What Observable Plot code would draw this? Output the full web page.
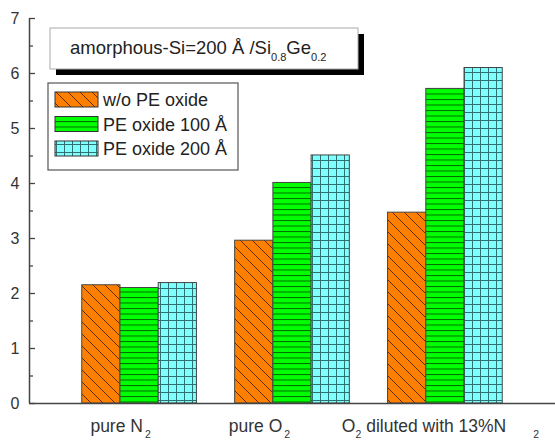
<!DOCTYPE html>
<html>
<head>
<meta charset="utf-8">
<script src="https://cdn.jsdelivr.net/npm/d3@7"></script>
<script src="https://cdn.jsdelivr.net/npm/@observablehq/plot@0.6"></script>
<style>
  html, body { margin: 0; padding: 0; background: #fff; }
  #chart svg { display: block; }
</style>
</head>
<body>
<div id="chart"></div>
<script>
// ---- data ----
const groups = ["pure N2", "pure O2", "O2 diluted with 13%N2"];
const groupLabelParts = [
  [["pure N", false], ["2", true]],
  [["pure O", false], ["2", true]],
  [["O", false], ["2", true], [" diluted with 13%N ", false], ["2", true]]
];
const series = ["w/o PE oxide", "PE oxide 100 Å", "PE oxide 200 Å"];
const woPEoxide = [2.15, 2.96, 3.47];
const peOxide100 = [2.10, 4.01, 5.72];
const peOxide200 = [2.19, 4.51, 6.10];
const yTicks = [0, 1, 2, 3, 4, 5, 6, 7];
const yMinorTicks = [0.5, 1.5, 2.5, 3.5, 4.5, 5.5, 6.5];

// ---- layout ----
const seriesValues = [woPEoxide, peOxide100, peOxide200];
const patternIds = ["patOrange", "patGreen", "patCyan"];
const barWidth = 0.25;
const xDomain = [-0.72, 2.72];
const labelShift = [-19, -33, -5];          // horizontal nudge of category labels (px)
const subGap = [[0, 2], [0, 2], [0, 0, 0, 22]]; // extra gap before subscripts (px)

const data = [];
groups.forEach((g, gi) => {
  series.forEach((s, si) => {
    data.push({
      group: g, gi, series: s, si,
      value: seriesValues[si][gi],
      x1: gi + (si - 1.5) * barWidth,
      x2: gi + (si - 0.5) * barWidth
    });
  });
});

const font = "'Liberation Sans', Arial, Helvetica, sans-serif";

const plot = Plot.plot({
  width: 555,
  height: 443,
  marginLeft: 29,
  marginRight: 0,
  marginTop: 18,
  marginBottom: 40,
  style: { fontSize: "16px", fontFamily: font, color: "#333", background: "#fff" },
  x: { domain: xDomain, axis: null },
  y: { domain: [0, 7], axis: null },
  color: { domain: series, range: patternIds.map(id => `url(#${id})`) },
  marks: [
    Plot.rectY(data, { x1: "x1", x2: "x2", y: "value", fill: "series", stroke: "#444", strokeWidth: 1 }),
    Plot.ruleY([0], { stroke: "#444", strokeWidth: 1.5 }),
    Plot.ruleX([xDomain[0]], { stroke: "#444", strokeWidth: 1.5 }),
    Plot.axisY({ ticks: yTicks, tickSize: -6, tickPadding: 16, tickFormat: d => d, label: null, fontSize: 16, stroke: "#444", strokeWidth: 1.3 }),
    Plot.axisY({ ticks: yMinorTicks, tickSize: -4, tickFormat: () => "", label: null, stroke: "#444", strokeWidth: 1.3 }),
    Plot.axisX({ ticks: [0, 1, 2], tickFormat: i => groups[i], tickSize: 0, tickPadding: 16.5, fontSize: 17.5, label: null })
  ]
});

document.getElementById("chart").appendChild(plot);

const svg = d3.select(plot.tagName.toLowerCase() === "svg" ? plot : plot.querySelector("svg"));

// ---- patterns ----
const defs = svg.insert("defs", ":first-child");
const pO = defs.append("pattern").attr("id", "patOrange").attr("patternUnits", "userSpaceOnUse")
  .attr("width", 12).attr("height", 12);
pO.append("rect").attr("width", 12).attr("height", 12).attr("fill", "#ff8000");
pO.append("path").attr("d", "M-1,-1L13,13M-1,11L1,13M11,-1L13,1")
  .attr("stroke", "#5a3000").attr("stroke-width", 1);
const pG = defs.append("pattern").attr("id", "patGreen").attr("patternUnits", "userSpaceOnUse")
  .attr("width", 10).attr("height", 5.5);
pG.append("rect").attr("width", 10).attr("height", 5.5).attr("fill", "#00ff00");
pG.append("path").attr("d", "M0,0.5H10").attr("stroke", "#006a00").attr("stroke-width", 1);
const pC = defs.append("pattern").attr("id", "patCyan").attr("patternUnits", "userSpaceOnUse")
  .attr("width", 8).attr("height", 8);
pC.append("rect").attr("width", 8).attr("height", 8).attr("fill", "#80ffff");
pC.append("path").attr("d", "M0.5,0V8M0,0.5H8").attr("stroke", "#2f7070").attr("stroke-width", 1);

// ---- x tick labels with subscripts ----
svg.selectAll('g[aria-label="x-axis tick label"] text').each(function() {
  const t = d3.select(this);
  const idx = groups.indexOf(t.text());
  if (idx < 0) return;
  t.text("");
  let lowered = false;
  groupLabelParts[idx].forEach(([txt, sub], k) => {
    const ts = t.append("tspan").text(txt);
    if (sub) {
      ts.attr("font-size", 10.5).attr("dy", lowered ? 0 : 6).attr("dx", subGap[idx][k] || 0);
      lowered = true;
    } else if (lowered) {
      ts.attr("dy", -6);
      lowered = false;
    }
  });
  t.attr("dx", labelShift[idx]);
});

// ---- title box ----
const tb = svg.append("g").attr("text-anchor", "start");
tb.append("rect").attr("x", 56).attr("y", 34).attr("width", 308).attr("height", 41).attr("fill", "#000");
tb.append("rect").attr("x", 50).attr("y", 28).attr("width", 308).attr("height", 41)
  .attr("fill", "#fff").attr("stroke", "#aaa").attr("stroke-width", 1);
const tt = tb.append("text").attr("x", 70).attr("y", 54).attr("font-family", font)
  .attr("font-size", 18.5).attr("fill", "#222").attr("text-anchor", "start");
tt.append("tspan").text("amorphous-Si=200 Å /Si");
tt.append("tspan").text("0.8").attr("font-size", 11).attr("dy", 7);
tt.append("tspan").text("Ge").attr("dy", -7);
tt.append("tspan").text("0.2").attr("font-size", 11).attr("dy", 7);

// ---- legend ----
const lg = svg.append("g").attr("text-anchor", "start");
lg.append("rect").attr("x", 48).attr("y", 83).attr("width", 190).attr("height", 87)
  .attr("fill", "#fff").attr("stroke", "#555").attr("stroke-width", 1.2);
series.forEach((s, i) => {
  const yTop = 92 + i * 24.5;
  lg.append("rect").attr("x", 55).attr("y", yTop).attr("width", 43).attr("height", 15)
    .attr("fill", `url(#${patternIds[i]})`).attr("stroke", "#333").attr("stroke-width", 1);
  lg.append("text").attr("x", 103).attr("y", yTop + 14).attr("font-family", font)
    .attr("font-size", 18).attr("fill", "#222").attr("text-anchor", "start").text(s);
});
</script>
</body>
</html>
